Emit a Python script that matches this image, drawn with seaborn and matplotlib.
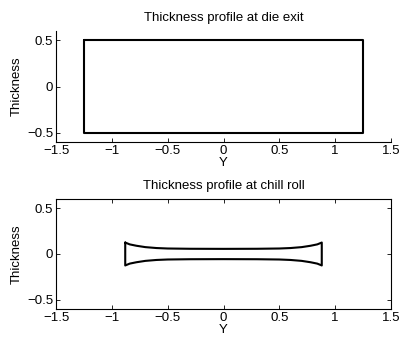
import numpy as np
import pandas as pd
import matplotlib
matplotlib.use("Agg")
import matplotlib.pyplot as plt
import seaborn as sns

sns.set_style("white")
plt.rcParams['font.family'] = ['Liberation Sans', 'DejaVu Sans']
plt.rcParams['text.color'] = 'black'
plt.rcParams['axes.labelcolor'] = 'black'
plt.rcParams['xtick.color'] = 'black'
plt.rcParams['ytick.color'] = 'black'

# Die exit profile (rectangle corners)
die_y = [-1.25, 1.25, 1.25, -1.25, -1.25]
die_t = [0.5, 0.5, -0.5, -0.5, 0.5]

# Chill roll profile: half-thickness read along the width (right half, symmetric)
roll_pos = [0.0, 0.3, 0.5, 0.6, 0.7, 0.78, 0.84, 0.88]
roll_half = [0.056, 0.057, 0.060, 0.065, 0.075, 0.090, 0.105, 0.125]

xticks = [-1.5, -1, -0.5, 0, 0.5, 1, 1.5]
xticklabels = ["\u22121.5", "\u22121", "\u22120.5", "0", "0.5", "1", "1.5"]
yticks = [-0.5, 0, 0.5]
yticklabels = ["\u22120.5", "0", "0.5"]

# build closed polygon for chill roll
pos = np.array(roll_pos)
half = np.array(roll_half)
top_x = np.concatenate([-pos[::-1], pos[1:]])
top_y = np.concatenate([half[::-1], half[1:]])
roll_x = np.concatenate([top_x, top_x[::-1], top_x[:1]])
roll_t = np.concatenate([top_y, -top_y[::-1], top_y[:1]])

die_df = pd.DataFrame({"Y": die_y, "Thickness": die_t})
roll_df = pd.DataFrame({"Y": roll_x, "Thickness": roll_t})

fig = plt.figure(figsize=(4.01, 3.39), dpi=100)
W, H = 401, 339
ax1 = fig.add_axes([56 / W, (H - 142) / H, 335 / W, 111 / H])
ax2 = fig.add_axes([56 / W, (H - 309) / H, 335 / W, 110 / H])

fs = 9.5
for ax, df, title, box in [(ax1, die_df, "Thickness profile at die exit", False),
                           (ax2, roll_df, "Thickness profile at chill roll", True)]:
    sns.lineplot(data=df, x="Y", y="Thickness", sort=False, estimator=None,
                 color="black", linewidth=1.5, ax=ax)
    ax.set_xlim(-1.5, 1.5)
    ax.set_ylim(-0.6, 0.6)
    ax.set_xticks(xticks)
    ax.set_xticklabels(xticklabels)
    ax.set_yticks(yticks)
    ax.set_yticklabels(yticklabels)
    ax.set_title(title, fontsize=fs, pad=7)
    ax.set_xlabel("Y", fontsize=fs, labelpad=0)
    ax.set_ylabel("Thickness", fontsize=fs, labelpad=3)
    ax.tick_params(direction="in", length=3, width=0.6, labelsize=fs, pad=2,
                   top=box, right=box, bottom=True, left=True)
    for s in ax.spines.values():
        s.set_linewidth(0.8)
        s.set_color("black")
    ax.spines["top"].set_visible(box)
    ax.spines["right"].set_visible(box)

fig.savefig("out.png", dpi=100)
